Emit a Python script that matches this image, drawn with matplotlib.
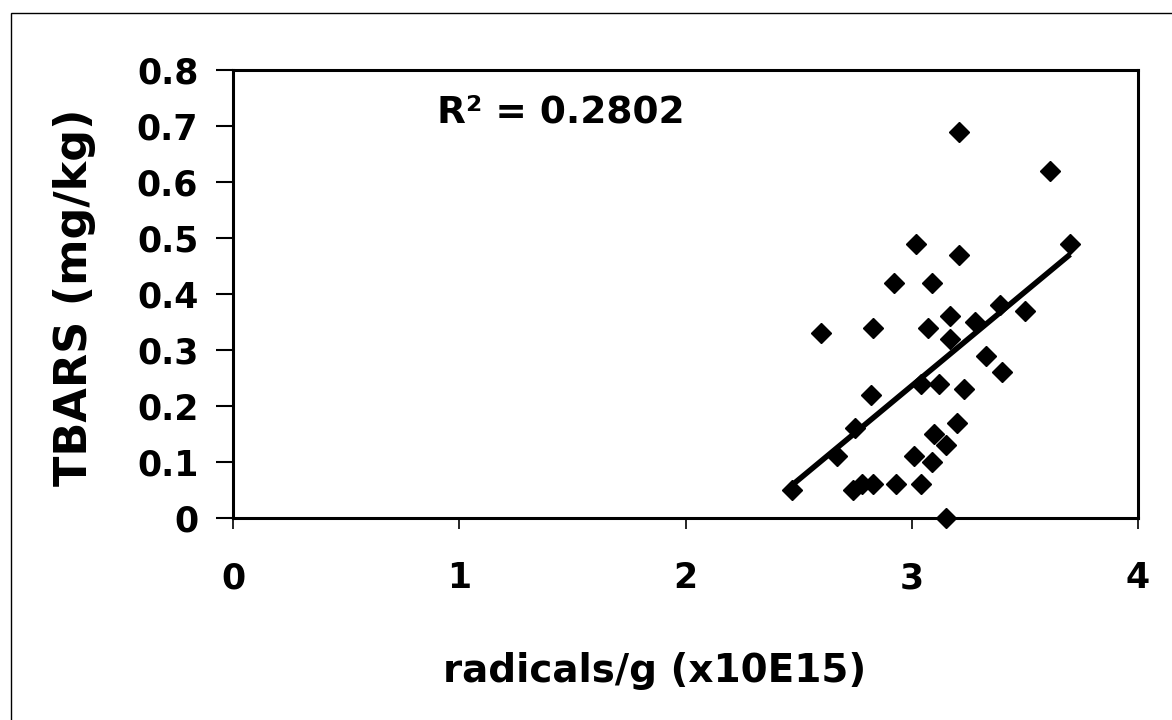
import numpy as np
import matplotlib.pyplot as plt
from matplotlib.patches import Rectangle

# radicals/g (x10E15) vs TBARS (mg/kg)
radicals = [3.21, 3.61, 3.02, 3.21, 3.70, 2.92, 3.09, 3.39, 3.50, 2.60,
            2.83, 3.07, 3.17, 3.28, 3.17, 3.33, 3.40, 3.04, 3.12, 3.23,
            2.82, 3.20, 2.75, 3.10, 3.15, 3.01, 3.09, 2.67, 2.47, 2.74,
            2.78, 2.83, 2.93, 3.04, 3.15]
tbars = [0.69, 0.62, 0.49, 0.47, 0.49, 0.42, 0.42, 0.38, 0.37, 0.33,
         0.34, 0.34, 0.36, 0.35, 0.32, 0.29, 0.26, 0.24, 0.24, 0.23,
         0.22, 0.17, 0.16, 0.15, 0.13, 0.11, 0.10, 0.11, 0.05, 0.05,
         0.06, 0.06, 0.06, 0.06, 0.00]

x_ticks = [0, 1, 2, 3, 4]
y_ticks = [0, 0.1, 0.2, 0.3, 0.4, 0.5, 0.6, 0.7, 0.8]
y_tick_labels = ['0', '0.1', '0.2', '0.3', '0.4', '0.5', '0.6', '0.7', '0.8']
r2_text = 'R\u00b2 = 0.2802'


def main():
    plt.rcParams['font.family'] = ['DejaVu Sans']
    plt.rcParams['font.weight'] = 'bold'

    fig = plt.figure(figsize=(11.72, 7.2), dpi=100)
    ax = fig.add_axes([233 / 1172, 1 - 518 / 720, 905 / 1172, 448 / 720])

    x = np.array(radicals)
    y = np.array(tbars)

    # linear trendline over the range of the data
    slope, intercept = np.polyfit(x, y, 1)
    xl = np.array([x.min(), x.max()])
    ax.plot(xl, slope * xl + intercept, color='black', lw=4, solid_capstyle='butt', zorder=2)

    ax.plot(x, y, linestyle='none', marker='D', markersize=10.5,
            color='black', zorder=3, clip_on=False)

    ax.set_xlim(0, 4)
    ax.set_ylim(0, 0.8)
    ax.set_xticks(x_ticks)
    ax.set_xticklabels([str(t) for t in x_ticks])
    ax.set_yticks(y_ticks)
    ax.set_yticklabels(y_tick_labels)

    for s in ax.spines.values():
        s.set_linewidth(2.2)
    ax.tick_params(axis='y', direction='out', length=12, width=1.5, labelsize=25, pad=13)
    ax.tick_params(axis='x', direction='out', length=8, width=1.2, labelsize=25, pad=23)

    ax.set_xlabel('radicals/g (x10E15)', fontsize=28, fontweight='bold', va='center')
    ax.xaxis.set_label_coords(0.466, -0.342)
    ax.set_ylabel('TBARS (mg/kg)', fontsize=32, fontweight='bold', va='center')
    ax.yaxis.set_label_coords(-0.175, 0.493)

    ax.text(0.225, 0.882, r2_text, transform=ax.transAxes, fontsize=27,
            fontweight='bold', va='baseline', ha='left')

    # thin outer frame of the original figure
    fig.patches.append(Rectangle((11 / 1172, -0.1), 1.2, 1.1 - 13 / 720,
                                 transform=fig.transFigure, fill=False,
                                 lw=1, color='black'))

    fig.savefig('out.png', dpi=100)


if __name__ == '__main__':
    main()
